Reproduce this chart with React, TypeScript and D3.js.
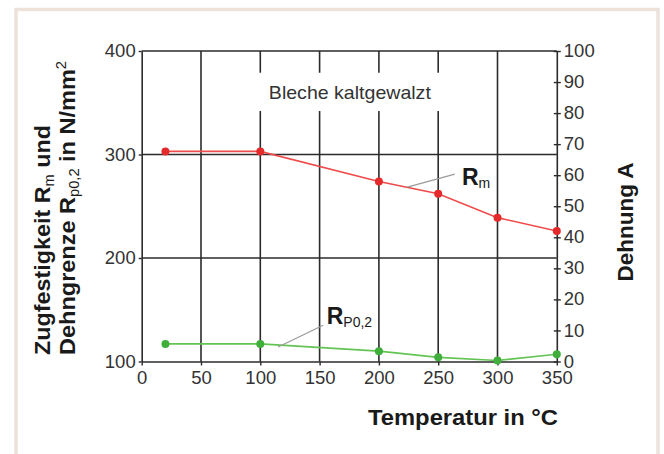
import React, { useEffect, useRef } from 'react'
import * as d3 from 'd3'

// values
const TEMPS = [20, 100, 200, 250, 300, 350]
const RM = [303, 303, 274, 262, 239, 226]
const RP02 = [117, 117, 110, 104, 101, 107]
const X_TICKS = [0, 50, 100, 150, 200, 250, 300, 350]
const Y_TICKS = [100, 200, 300, 400]
const A_TICKS = [0, 10, 20, 30, 40, 50, 60, 70, 80, 90, 100]
const V_GRID = [50, 100, 150, 200, 250, 300]
const H_GRID = [200, 300, 400]

// annotation anchors in data space: [x, y]
const RM_LABEL = { at: [270, 270.5], from: [224, 268.5], to: [264, 281] }
const RP_LABEL = { at: [156, 136], from: [115, 114], to: [153, 135] }
const NOTE_BOX = { x0: 91, x1: 260, y0: 342, y1: 379, text: 'Bleche kaltgewalzt' }

const W = 664
const H = 454
const FONT = "'Liberation Sans', Arial, sans-serif"

function StrengthChart() {
  const svgRef = useRef<SVGSVGElement>(null)

  useEffect(() => {
    if (!svgRef.current) return
    const margin = { top: 51, right: 107.2, bottom: 92.5, left: 141.7 }
    const w = W - margin.left - margin.right
    const h = H - margin.top - margin.bottom

    const svg = d3.select(svgRef.current)
    svg.selectAll('*').remove()

    // page frame
    svg.append('rect').attr('width', W).attr('height', H).attr('fill', '#fff')
    svg
      .append('rect')
      .attr('x', 16)
      .attr('y', 9.5)
      .attr('width', 642)
      .attr('height', 470)
      .attr('fill', '#fff')
      .attr('stroke', '#ede2da')
      .attr('stroke-width', 3.5)

    const g = svg.append('g').attr('transform', `translate(${margin.left},${margin.top})`)

    const x = d3.scaleLinear().domain([0, 350]).range([0, w])
    const y = d3.scaleLinear().domain([100, 400]).range([h, 0])
    const yA = d3.scaleLinear().domain([0, 100]).range([h, 0])

    const gridColor = '#2b2b2b'

    // grid
    g.selectAll('line.vg')
      .data(V_GRID)
      .enter()
      .append('line')
      .attr('x1', (d) => x(d))
      .attr('x2', (d) => x(d))
      .attr('y1', 0)
      .attr('y2', h)
      .attr('stroke', gridColor)
      .attr('stroke-width', 1.6)

    g.selectAll('line.hg')
      .data(H_GRID)
      .enter()
      .append('line')
      .attr('x1', 0)
      .attr('x2', w)
      .attr('y1', (d) => y(d))
      .attr('y2', (d) => y(d))
      .attr('stroke', gridColor)
      .attr('stroke-width', 1.6)

    // note box
    g.append('rect')
      .attr('x', x(NOTE_BOX.x0))
      .attr('y', y(NOTE_BOX.y1))
      .attr('width', x(NOTE_BOX.x1) - x(NOTE_BOX.x0))
      .attr('height', y(NOTE_BOX.y0) - y(NOTE_BOX.y1))
      .attr('fill', '#fff')
    g.append('text')
      .attr('x', (x(NOTE_BOX.x0) + x(NOTE_BOX.x1)) / 2)
      .attr('y', (y(NOTE_BOX.y0) + y(NOTE_BOX.y1)) / 2 + 7)
      .attr('text-anchor', 'middle')
      .attr('font-family', FONT)
      .attr('font-size', 19)
      .attr('fill', '#333')
      .attr('textLength', 162)
      .attr('lengthAdjust', 'spacingAndGlyphs')
      .text(NOTE_BOX.text)

    // axes
    const styleAxis = (sel: d3.Selection<SVGGElement, unknown, null, undefined>) => {
      sel.select('.domain').attr('stroke', gridColor).attr('stroke-width', 1.6)
      sel.selectAll('.tick line').attr('stroke', gridColor).attr('stroke-width', 1.4)
      sel
        .selectAll('.tick text')
        .attr('fill', '#333')
        .attr('font-family', FONT)
        .attr('font-size', 18.5)
    }

    const xAxis = g
      .append('g')
      .attr('transform', `translate(0,${h})`)
      .call(d3.axisBottom(x).tickValues(X_TICKS).tickSize(4).tickSizeOuter(0).tickPadding(5))
    styleAxis(xAxis)

    const yAxis = g
      .append('g')
      .call(d3.axisLeft(y).tickValues(Y_TICKS).tickSize(3).tickSizeOuter(0).tickPadding(3))
    styleAxis(yAxis)

    const aAxis = g
      .append('g')
      .attr('transform', `translate(${w},0)`)
      .call(d3.axisRight(yA).tickValues(A_TICKS).tickSize(4).tickSizeOuter(0).tickPadding(3))
    styleAxis(aAxis)
    aAxis.selectAll('.tick line').attr('x1', -3)
    aAxis.selectAll('.tick text').attr('dy', '0.3em')

    // series
    const series = [
      { values: RM, line: '#ee4b4b', dot: '#e42a2a' },
      { values: RP02, line: '#63c454', dot: '#3fae3a' },
    ]
    const line = d3
      .line<number>()
      .x((_, i) => x(TEMPS[i]))
      .y((d) => y(d))

    series.forEach((s) => {
      g.append('path')
        .datum(s.values)
        .attr('fill', 'none')
        .attr('stroke', s.line)
        .attr('stroke-width', 1.6)
        .attr('d', line)
      g.selectAll(null)
        .data(s.values)
        .enter()
        .append('circle')
        .attr('cx', (_, i) => x(TEMPS[i]))
        .attr('cy', (d) => y(d))
        .attr('r', 4)
        .attr('fill', s.dot)
    })

    // labels with leader lines
    const labels = [
      { ...RM_LABEL, sub: 'm' },
      { ...RP_LABEL, sub: 'P0,2' },
    ]
    labels.forEach((l) => {
      g.append('line')
        .attr('x1', x(l.from[0]))
        .attr('y1', y(l.from[1]))
        .attr('x2', x(l.to[0]))
        .attr('y2', y(l.to[1]))
        .attr('stroke', '#9a9a9a')
        .attr('stroke-width', 1.2)
      const t = g
        .append('text')
        .attr('x', x(l.at[0]))
        .attr('y', y(l.at[1]))
        .attr('font-family', FONT)
        .attr('fill', '#1a1a1a')
      t.append('tspan').attr('font-size', 23).attr('font-weight', 'bold').text('R')
      t.append('tspan').attr('font-size', 14).attr('dy', 3).text(l.sub)
    })

    // axis titles
    const title = svg.append('g').attr('font-family', FONT).attr('fill', '#1a1a1a')

    const left1 = title
      .append('text')
      .attr('transform', 'translate(50,355) rotate(-90)')
      .attr('font-size', 22.5)
      .attr('font-weight', 'bold')
      .attr('textLength', 230)
      .attr('lengthAdjust', 'spacingAndGlyphs')
    left1.append('tspan').text('Zugfestigkeit R')
    left1.append('tspan').attr('font-size', 14).attr('font-weight', 'normal').attr('dy', 4).text('m')
    left1.append('tspan').attr('dy', -4).text(' und')

    const left2 = title
      .append('text')
      .attr('transform', 'translate(75,355) rotate(-90)')
      .attr('font-size', 22.5)
      .attr('font-weight', 'bold')
      .attr('textLength', 294)
      .attr('lengthAdjust', 'spacingAndGlyphs')
    left2.append('tspan').text('Dehngrenze R')
    left2.append('tspan').attr('font-size', 14).attr('font-weight', 'normal').attr('dy', 4).text('p0,2')
    left2.append('tspan').attr('dy', -4).text(' in N/mm')
    left2.append('tspan').attr('font-size', 14).attr('font-weight', 'normal').attr('dy', -9).text('2')

    title
      .append('text')
      .attr('transform', 'translate(633,222) rotate(-90)')
      .attr('text-anchor', 'middle')
      .attr('font-size', 22.5)
      .attr('font-weight', 'bold')
      .text('Dehnung A')

    title
      .append('text')
      .attr('x', 558)
      .attr('y', 425)
      .attr('text-anchor', 'end')
      .attr('font-size', 22.5)
      .attr('font-weight', 'bold')
      .attr('textLength', 190)
      .attr('lengthAdjust', 'spacingAndGlyphs')
      .text('Temperatur in °C')
  }, [])

  return (
    <svg
      ref={svgRef}
      width={W}
      height={H}
      style={{ position: 'absolute', left: 0, top: 0, display: 'block' }}
    />
  )
}

export default function App() {
  return <StrengthChart />
}
